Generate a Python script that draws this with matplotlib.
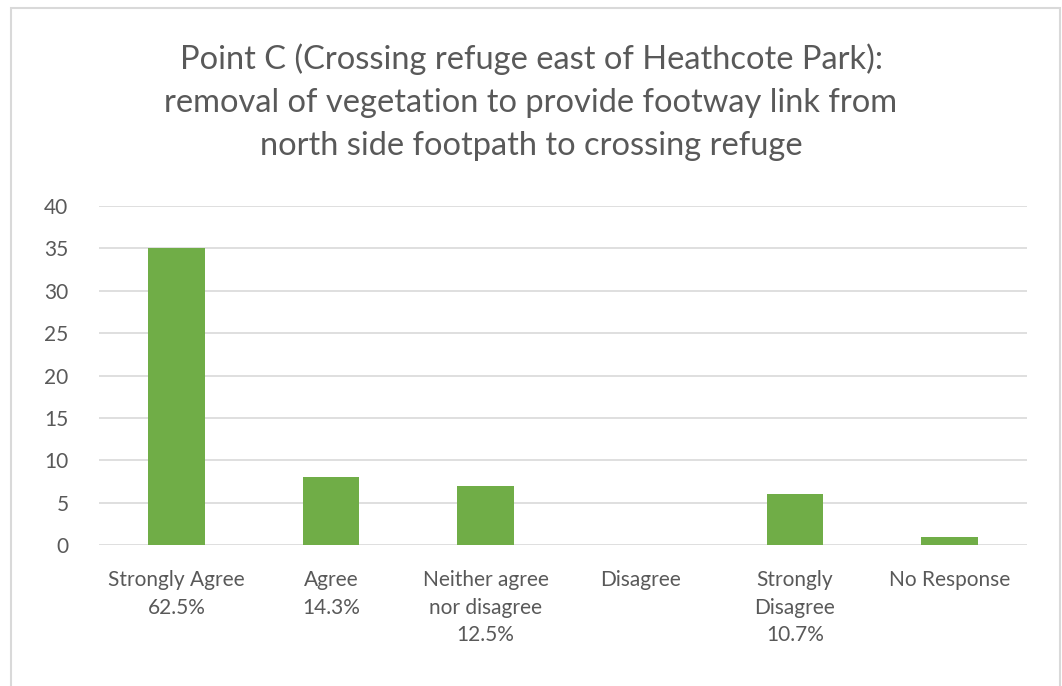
import matplotlib.pyplot as plt
from matplotlib.patches import Rectangle

plt.rcParams['font.family'] = ['Lato', 'DejaVu Sans']

# --- data ---
categories = ['Strongly Agree\n62.5%', 'Agree\n14.3%', 'Neither agree\nnor disagree\n12.5%',
              'Disagree', 'Strongly\nDisagree\n10.7%', 'No Response']
counts = [35, 8, 7, 0, 6, 1]
y_ticks = [0, 5, 10, 15, 20, 25, 30, 35, 40]
title = ('Point C (Crossing refuge east of Heathcote Park):\n'
         'removal of vegetation to provide footway link from\n'
         'north side footpath to crossing refuge')

text_col = '#595959'
grid_col = '#D9D9D9'
bar_col = '#70AD47'

fig = plt.figure(figsize=(10.62, 6.86), dpi=100)
W, H = 1062, 686
# plot area in pixel coordinates
left, right, top, bottom = 99, 1027, 206, 545
ax = fig.add_axes([left / W, 1 - bottom / H, (right - left) / W, (bottom - top) / H])

x = range(len(categories))
ax.bar(x, counts, width=0.365, color=bar_col, zorder=3)
ax.set_xlim(-0.5, len(categories) - 0.5)
ax.set_ylim(0, 40)
ax.set_yticks(y_ticks)
ax.set_xticks(list(x))
ax.set_xticklabels(categories, linespacing=1.47, va='top')
ax.tick_params(axis='both', length=0, labelsize=15, colors=text_col)
ax.tick_params(axis='x', pad=18)
ax.tick_params(axis='y', pad=22)
ax.grid(axis='y', color=grid_col, linewidth=1.2, zorder=0)
for s in ax.spines.values():
    s.set_visible(False)

fig.text(0.5, 1 - 102 / H, title, ha='center', va='center', fontsize=23.5,
         color=text_col, linespacing=1.55)

# outer chart border
fig.patches.append(Rectangle((11 / W, -0.01), (1060 - 11) / W, 1 - 8 / H + 0.01,
                             transform=fig.transFigure, fill=False,
                             edgecolor=grid_col, linewidth=1.5))

fig.savefig('out.png', dpi=100)
